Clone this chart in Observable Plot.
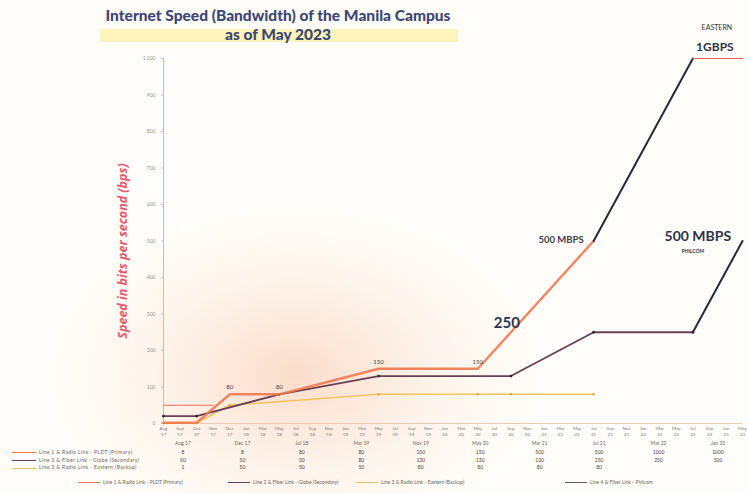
<!DOCTYPE html>
<html><head><meta charset="utf-8">
<script src="https://cdn.jsdelivr.net/npm/d3@7"></script>
<script src="https://cdn.jsdelivr.net/npm/@observablehq/plot@0.6"></script>
<style>
body{margin:0;background:#fff;}
#wrap{position:relative;width:747px;height:493px;overflow:hidden;font-family:Lato,"Open Sans",sans-serif;
 background: radial-gradient(ellipse 250px 170px at 295px 375px, rgba(246,190,160,0.5), rgba(250,222,200,0.25) 60%, rgba(255,255,255,0) 100%), #fffdf9;}
#chart{position:absolute;left:0;top:0;}
.abs{position:absolute;white-space:nowrap;}
</style></head>
<body>
<div id="wrap">
  <div class="abs" style="left:100px;top:29px;width:358px;height:13px;background:#fbf2b0;opacity:0.85"></div>
  <div id="chart"></div>
  <div class="abs" style="left:78px;top:6px;width:400px;text-align:center;font-weight:900;font-size:15.5px;line-height:19px;color:#3c4775;">Internet Speed (Bandwidth) of the Manila Campus<br>as of May 2023</div>
  <div class="abs" style="left:122px;top:251px;transform:translate(-50%,-50%) rotate(-90deg);font-weight:bold;font-style:italic;font-size:12.5px;color:#e8566e;font-family:'Open Sans',sans-serif;">Speed in bits per second (bps)</div>
  <div id="table"></div>
</div>
<script>
const N = null;
const cats = ["Aug 17","Sep 17","Oct 17","Nov 17","Dec 17","Jan 18","Mar 18","May 18","Jul 18","Sep 18","Nov 18","Jan 19","Mar 19","May 19","Jul 19","Sep 19","Nov 19","Jan 20","Mar 20","May 20","Jul 20","Sep 20","Nov 20","Jan 21","Mar 21","May 21","Jul 21","Sep 21","Nov 21","Jan 22","Mar 22","May 22","Jul 22","Sep 22","Jan 23","May 23"];
const yTicks = [0,100,200,300,400,500,600,700,800,900,1000];
// orange line
const line1Vals = [2,N,2,N,80,N,N,80,N,N,N,N,N,150,N,N,N,N,N,150,N,250,N,N,N,N,500,N,N,N,N,N,N,N,N,N];
// dark maroon line
const line2Vals = [20,N,20,N,N,N,N,80,N,N,N,N,N,130,N,N,N,N,N,N,N,130,N,N,N,N,250,N,N,N,N,N,250,N,N,N];
// yellow line
const line3Vals = [1,N,1,N,50,N,N,N,N,N,N,N,N,80,N,N,N,N,N,80,N,80,N,N,N,N,80,N,N,N,N,N,N,N,N,N];
// thin red line
const line4Vals = [50,N,N,50,N,N,N,N,N,N,N,N,N,N,N,N,N,N,N,N,N,N,N,N,N,N,N,N,N,N,N,N,N,N,N,N];
// Eastern upgrade (1 Gbps)
const easternVals = [N,N,N,N,N,N,N,N,N,N,N,N,N,N,N,N,N,N,N,N,N,N,N,N,N,N,500,N,N,N,N,N,1000,N,N,1000];
// Philcom upgrade (500 Mbps)
const philcomVals = [N,N,N,N,N,N,N,N,N,N,N,N,N,N,N,N,N,N,N,N,N,N,N,N,N,N,N,N,N,N,N,N,250,N,N,500];

const smallLabels = [{i:4,v:80,t:"80"},{i:7,v:80,t:"80"},{i:13,v:150,t:"150"},{i:19,v:150,t:"150"}];

const tableCols = ["Aug 17","Dec 17","Jul 18","Mar 19","Nov 19","May 20","Mar 21","Jul 21","Mar 22","Jan 23"];
const rowLabels = ["Line 1 & Radio Link - PLDT (Primary)","Line 2 & Fiber Link - Globe (Secondary)","Line 3 & Radio Link - Eastern (Backup)"];
const row1 = ["8","8","80","80","150","150","500","500","1000","1000"];
const row2 = ["50","50","50","80","130","130","130","250","250","500"];
const row3 = ["1","50","50","50","80","80","80","80","",""];
const legendLabels = ["Line 1 & Radio Link - PLDT (Primary)","Line 2 & Fiber Link - Globe (Secondary)","Line 3 & Radio Link - Eastern (Backup)","Line 4 & Fiber Link - Philcom"];
const seriesColors = ["#f0784e","#6a3f52","#f2c35a","#555a66"];

const toRows = vals => vals.map((v,i)=>({cat:cats[i], i, v})).filter(d=>d.v!=null);
const r1 = toRows(line1Vals), r2 = toRows(line2Vals), r3 = toRows(line3Vals), r4 = toRows(line4Vals);
const rE = toRows(easternVals), rP = toRows(philcomVals);
const lab = smallLabels.map(d=>({cat:cats[d.i], v:d.v, t:d.t}));

const plot = Plot.plot({
  width: 747, height: 441,
  marginLeft: 163, marginRight: 5, marginTop: 58, marginBottom: 18,
  style: {background: "transparent", overflow: "visible", fontFamily: "Lato, sans-serif"},
  x: {type: "point", domain: cats, padding: 0, round: false},
  y: {domain: [0, 1000]},
  marks: [
    Plot.ruleX([cats[0]], {stroke: "#f0aaa0", strokeWidth: 1}),
    Plot.ruleY([0], {stroke: "#f0c8b6", strokeWidth: 1}),
    Plot.axisY({ticks: yTicks, tickSize: 2, fontSize: 5, fill: "#9a8f8a", stroke: "#c9bdb5", tickPadding: 6, label: null}),
    Plot.axisX({tickSize: 0, fontSize: 4.6, fill: "#7f7570", tickPadding: 3, lineHeight: 1.15, tickFormat: d => d.replace(" ", "\n"), label: null}),
    Plot.line(r4, {x:"cat", y:"v", stroke:"#ec6a68", strokeWidth: 1.2}),
    Plot.line(r3, {x:"cat", y:"v", stroke:"#f2c35a", strokeWidth: 1.6}),
    Plot.dot(r3, {x:"cat", y:"v", fill:"#d9a640", r: 1.2}),
    Plot.line(r2, {x:"cat", y:"v", stroke:"#6a3f52", strokeWidth: 1.8}),
    Plot.dot(r2, {x:"cat", y:"v", fill:"#3a2a35", r: 1.4}),
    Plot.line(r1, {x:"cat", y:"v", stroke:"#f0784e", strokeWidth: 2.4, strokeOpacity: 0.9}),
    Plot.line(rE.filter(d=>d.i<=32), {x:"cat", y:"v", stroke:"#262838", strokeWidth: 2}),
    Plot.line(rE.filter(d=>d.i>=32), {x:"cat", y:"v", stroke:"#e25c5c", strokeWidth: 1.1}),
    Plot.line(rP, {x:"cat", y:"v", stroke:"#262838", strokeWidth: 2}),
    Plot.text(lab, {x:"cat", y:"v", text:"t", dy:-7, fontSize: 6, fill:"#4a3a40"}),
    Plot.text([{cat:cats[21], v:250}], {x:"cat", y:"v", text:()=>"250", dx:-4, dy:-9, fontSize: 15, fontWeight:"bold", fill:"#2c3350"}),
    Plot.text([{cat:cats[26], v:500}], {x:"cat", y:"v", text:()=>"500 MBPS", textAnchor:"end", dx:-10, dy:-1, fontSize: 9.5, fontWeight:"bold", fill:"#3a3d4f"}),
    Plot.text([{cat:cats[32], v:500}], {x:"cat", y:"v", text:()=>"500 MBPS", dx:5, dy:-4, fontSize: 14, fontWeight:"bold", fill:"#2f3345"}),
    Plot.text([{cat:cats[32], v:500}], {x:"cat", y:"v", text:()=>"PHILCOM", dx:0, dy:10, fontSize: 5, fontWeight:"bold", fill:"#2f3345"}),
    Plot.text([{cat:cats[32], v:1000}], {x:"cat", y:"v", text:()=>"1GBPS", dx:22, dy:-11, fontSize: 12, fontWeight:"bold", fill:"#2f3345"}),
    Plot.text([{cat:cats[32], v:1000}], {x:"cat", y:"v", text:()=>"EASTERN", dx:24, dy:-31, fontSize: 7, fill:"#2f3345"})
  ]
});
document.getElementById("chart").appendChild(plot);

// data table + legend (HTML)
const t = document.getElementById("table");
const colX = i => 183 + i * (718 - 183) / (tableCols.length - 1);
function put(txt, x, y, css){ const d=document.createElement("div"); d.className="abs"; d.textContent=txt;
  d.style.cssText += `left:${x}px;top:${y}px;transform:translateX(-50%);font-size:5px;color:#6f6560;`+(css||""); t.appendChild(d); }
tableCols.forEach((c,i)=>put(c, colX(i), 440));
[row1,row2,row3].forEach((row,r)=>{
  row.forEach((v,i)=>put(v, colX(i), 449 + r*7.7, "color:#4a4040;"));
  const d=document.createElement("div"); d.className="abs";
  d.style.cssText=`left:12px;top:${449+r*7.7}px;font-size:5.2px;letter-spacing:0.3px;color:#6f6560;`;
  d.innerHTML=`<span style="display:inline-block;width:24px;height:1px;vertical-align:middle;background:${seriesColors[r]};margin-right:3px"></span>${rowLabels[r]}`;
  t.appendChild(d);
});
const legX = [78, 228, 356, 565];
legendLabels.forEach((l,i)=>{
  const d=document.createElement("div"); d.className="abs";
  d.style.cssText=`left:${legX[i]}px;top:479px;font-size:5px;color:#6f6560;`;
  d.innerHTML=`<span style="display:inline-block;width:22px;height:1.2px;vertical-align:middle;background:${seriesColors[i]};margin-right:3px"></span>${l}`;
  t.appendChild(d);
});
</script>
</body></html>
